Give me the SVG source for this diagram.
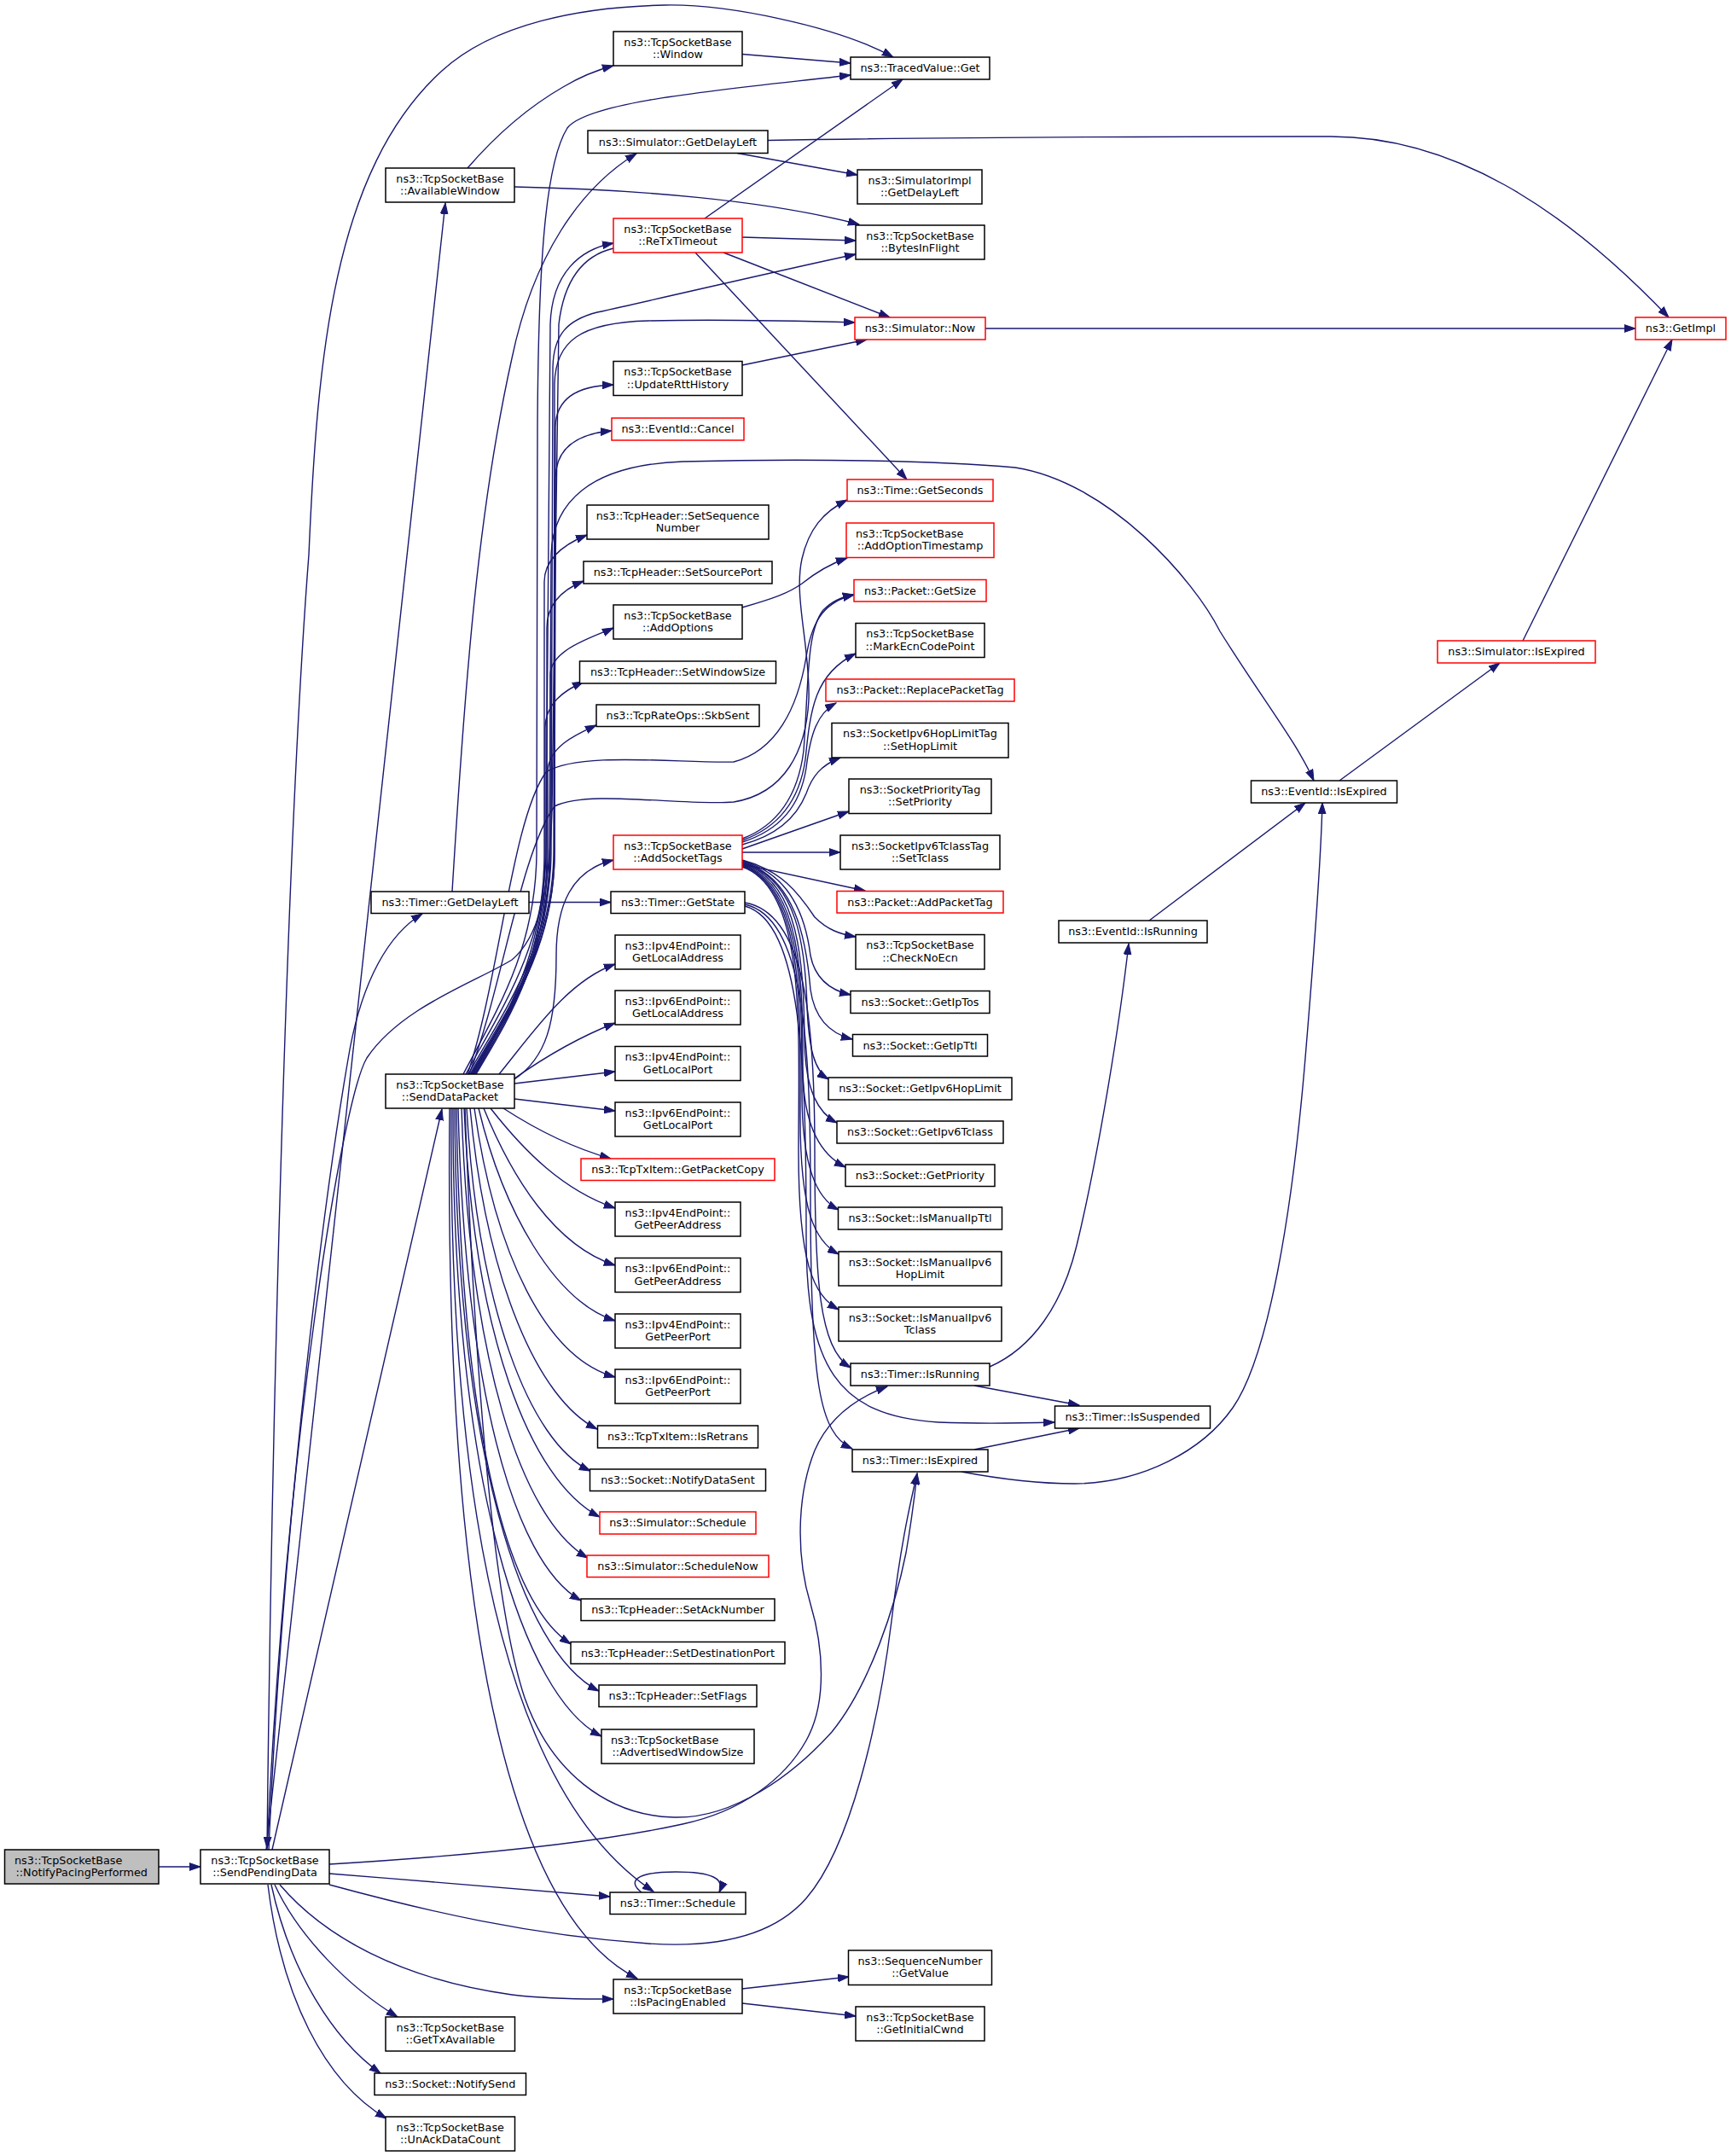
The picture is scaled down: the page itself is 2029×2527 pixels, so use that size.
<svg xmlns="http://www.w3.org/2000/svg" width="2029" height="2527" viewBox="0 0 2029 2527">
<defs>
<style>
.n rect{fill:#fff;stroke:#000;stroke-width:1.5}
.n.r rect{stroke:#ff0000}
.n.g rect{fill:#bfbfbf}
.n text{font-family:"DejaVu Sans","Liberation Sans",sans-serif;font-size:12.8px;fill:#000;text-anchor:middle}
.n text.l{text-anchor:start}
#edges path{fill:none;stroke:#191970;stroke-width:1.4;marker-end:url(#a)}
</style>
<marker id="a" markerUnits="userSpaceOnUse" markerWidth="14" markerHeight="10" refX="13" refY="5" orient="auto">
<path d="M0,0.6 L13,5 L0,9.4 z" fill="#191970" stroke="#191970" stroke-width="1"/>
</marker>
</defs>
<rect width="2029" height="2527" fill="#fff"/>
<g id="edges">
<path d="M186,2188 L235,2188"/>
<path d="M312,2168 L522,238"/>
<path d="M313,2168 C318,1700 335,1000 362,650 C372,420 390,200 518,83 C578,28 680,8 779,6 C850,4.5 980,30 1047,67"/>
<path d="M315,2168 C330,1800 380,1400 410,1230 C425,1150 455,1095 495,1071"/>
<path d="M319,2168 L518,1300"/>
<path d="M386,2185 C550,2175 700,2160 800,2138 C870,2123 920,2085 945,2040 C970,1995 965,1930 950,1880 C932,1820 935,1750 955,1700 C970,1665 1000,1640 1040,1625"/>
<path d="M386,2196 C500,2205 620,2215 715,2223"/>
<path d="M386,2209 C500,2240 620,2268 760,2278 C850,2284 910,2265 945,2225 C997,2165 1030,2020 1045,1900 C1055,1816 1065,1770 1075,1727"/>
<path d="M328,2209 C380,2270 470,2320 600,2338 C650,2344 690,2343 719,2343"/>
<path d="M322,2209 C350,2270 410,2330 466,2364"/>
<path d="M318,2209 C340,2310 390,2390 446,2430"/>
<path d="M314,2209 C330,2340 380,2440 453,2483"/>
<path d="M719,291 C690,298 662,320 655,380 L647,950 C644,1050 630,1100 600,1125 C560,1150 470,1180 430,1240 C400,1290 335,1700 313,2166"/>
<path d="M543,1259 C585,1180 628,1110 629,1000 L630,500 C631,300 640,190 665,150 C690,118 850,105 997,88"/>
<path d="M546,1259 C588,1182 638,1110 640,1000 L645,380 C647,320 680,292 719,285"/>
<path d="M549,1259 C592,1183 645,1110 646,1000 L648,430 C649,392 665,375 700,366 C800,344 900,320 1003,298"/>
<path d="M551,1259 C594,1184 648,1110 649,1000 L650,450 C651,400 680,378 760,376 C850,374 930,376 1002,378"/>
<path d="M552,1259 C595,1185 650,1110 650,1000 L651,500 C652,465 680,452 719,451"/>
<path d="M553,1259 C596,1186 650,1112 650,1000 L651,560 C652,522 680,508 717,505"/>
<path d="M554,1259 C596,1186 644,1115 644,1000 L646,650 C648,590 690,545 800,541 C950,537 1100,540 1190,548 C1300,565 1400,680 1430,740 C1480,820 1520,870 1540,915"/>
<path d="M554,1259 C596,1187 638,1115 638,1000 L638,682 C638,652 666,636 688,627"/>
<path d="M555,1259 C597,1187 641,1115 641,1000 L641,736 C641,706 662,690 684,681"/>
<path d="M556,1259 C598,1188 645,1118 645,1000 L645,791 C645,761 697,746 719,736"/>
<path d="M557,1259 C598,1189 639,1120 639,1000 L639,854 C639,824 662,809 684,799"/>
<path d="M558,1259 C599,1190 642,1122 642,1000 L642,905 C642,875 677,860 699,850"/>
<path d="M603,1265 C640,1240 652,1200 652,1120 C652,1060 670,1020 719,1008"/>
<path d="M548,1259 C585,1150 600,960 640,905 C680,880 800,895 860,893 C910,880 935,830 945,770 C952,725 968,705 1001,697"/>
<path d="M550,1259 C588,1160 610,1000 650,945 C690,925 800,945 860,940 C920,930 945,880 948,820 C950,760 930,700 940,655 C948,620 965,600 993,586"/>
<path d="M585,1259 C625,1210 665,1150 721,1130"/>
<path d="M603,1264 C640,1238 680,1215 721,1199"/>
<path d="M603,1270 L721,1256"/>
<path d="M603,1288 L721,1302"/>
<path d="M590,1299 C630,1325 670,1345 716,1358"/>
<path d="M575,1299 C615,1350 660,1395 721,1416"/>
<path d="M567,1299 C600,1380 650,1460 721,1483"/>
<path d="M561,1299 C590,1420 650,1525 721,1548"/>
<path d="M556,1299 C580,1470 640,1592 721,1614"/>
<path d="M551,1299 C570,1500 630,1640 700,1675"/>
<path d="M547,1299 C560,1530 620,1690 692,1724"/>
<path d="M544,1299 C555,1560 620,1735 703,1778"/>
<path d="M541,1299 C550,1590 610,1780 689,1826"/>
<path d="M537,1299 C545,1620 600,1830 681,1876"/>
<path d="M535,1299 C540,1660 590,1875 669,1927"/>
<path d="M533,1299 C535,1700 610,1935 702,1982"/>
<path d="M531,1299 C530,1740 615,1990 705,2035"/>
<path d="M529,1299 C525,1850 620,2120 766,2217"/>
<path d="M527,1299 C520,1950 610,2250 747,2319"/>
<path d="M545,1299 C560,1700 585,1900 615,1990 C645,2075 710,2128 790,2130 C860,2132 930,2080 975,2030 C1020,1975 1050,1880 1062,1820 C1068,1785 1072,1755 1075,1727"/>
<path d="M752,2218 C735,2205 745,2194 792,2194 C835,2194 850,2202 843,2218"/>
<path d="M530,1045 C545,800 560,600 600,420 C625,300 680,220 746,180"/>
<path d="M620,1057.5 L716,1057.5"/>
<path d="M548,197 C580,160 620,125 660,102 C680,90 700,82 719,77"/>
<path d="M603,219 C750,222 900,235 1007,263"/>
<path d="M870,63.5 L997,74"/>
<path d="M864,179.5 L1005,205"/>
<path d="M900,164.5 C1100,161 1300,160 1560,160 C1700,160 1830,240 1956,372"/>
<path d="M826,256 L1058,93"/>
<path d="M870,278 L1003,282"/>
<path d="M848,296 L1043,372"/>
<path d="M815,296 L1063,562"/>
<path d="M870,428 L1016,398"/>
<path d="M1155,385 L1917,385"/>
<path d="M870,712 C905,702 925,695 940,684 C955,672 970,662 993,654"/>
<path d="M870,983 C910,968 935,935 942,880 C948,800 945,740 965,715 C975,705 985,700 1001,697"/>
<path d="M870,985 C912,970 937,940 944,890 C950,830 955,790 1003,766"/>
<path d="M870,987 C914,973 938,945 945,900 C950,860 958,836 980,824"/>
<path d="M870,990 C915,978 935,955 945,930 C952,910 962,897 985,888"/>
<path d="M870,995 L995,951"/>
<path d="M870,999 L985,999"/>
<path d="M870,1013 L1014,1044"/>
<path d="M870,1008 C915,1020 935,1045 955,1075 C970,1090 985,1095 1003,1098"/>
<path d="M870,1009 C930,1025 945,1080 950,1120 C955,1145 970,1160 997,1166"/>
<path d="M870,1010 C932,1028 945,1100 950,1160 C955,1195 975,1212 999,1218"/>
<path d="M870,1011 C935,1030 944,1110 946,1180 C948,1230 955,1255 971,1265"/>
<path d="M870,1012 C938,1032 942,1130 943,1220 C944,1280 960,1305 981,1316"/>
<path d="M870,1013 C940,1035 941,1150 941,1250 C941,1325 965,1355 991,1368"/>
<path d="M870,1014 C942,1038 940,1170 940,1280 C940,1370 958,1405 983,1418"/>
<path d="M870,1015 C944,1040 938,1190 938,1310 C938,1420 955,1455 983,1470"/>
<path d="M870,1016 C946,1042 936,1210 936,1350 C936,1480 953,1518 983,1535"/>
<path d="M873,1058 C945,1070 955,1200 955,1350 C955,1500 960,1580 997,1603"/>
<path d="M873,1060 C942,1075 950,1220 950,1400 C950,1620 960,1680 999,1698"/>
<path d="M873,1062 C940,1080 945,1250 945,1450 C945,1600 980,1660 1100,1667 C1150,1669 1200,1668 1236,1667"/>
<path d="M1160,1602 C1210,1580 1245,1530 1262,1460 C1284,1369 1310,1220 1323,1106"/>
<path d="M1142,1624 L1265,1647"/>
<path d="M1142,1699 L1265,1674"/>
<path d="M1127,1725 C1180,1735 1220,1739 1260,1739 C1340,1738 1410,1700 1445,1650 C1487,1590 1515,1420 1530,1240 C1539,1132 1548,1020 1550,941"/>
<path d="M1347,1079 L1530,941"/>
<path d="M1570,915 L1758,777"/>
<path d="M1785,751 L1960,398"/>
<path d="M870,2331 L995,2317"/>
<path d="M870,2348 L1003,2363"/>
</g>
<g id="n_notify" class="n g"><rect x="5.5" y="2168" width="180.5" height="40"/><text class="l" x="17" y="2184.5">ns3::TcpSocketBase</text><text x="95.75" y="2199.2">::NotifyPacingPerformed</text></g>
<g id="n_spd" class="n"><rect x="235" y="2168" width="151" height="40"/><text x="310.5" y="2184.5">ns3::TcpSocketBase</text><text x="310.5" y="2199.2">::SendPendingData</text></g>
<g id="n_avw" class="n"><rect x="452" y="197" width="151" height="40"/><text x="527.5" y="213.5">ns3::TcpSocketBase</text><text x="527.5" y="228.2">::AvailableWindow</text></g>
<g id="n_tgdl" class="n"><rect x="435" y="1045" width="185" height="25.5"/><text x="527.5" y="1062.3">ns3::Timer::GetDelayLeft</text></g>
<g id="n_sdp" class="n"><rect x="452" y="1259" width="151" height="40"/><text x="527.5" y="1275.5">ns3::TcpSocketBase</text><text x="527.5" y="1290.2">::SendDataPacket</text></g>
<g id="n_gta" class="n"><rect x="452" y="2364" width="151.5" height="40"/><text x="527.75" y="2380.5">ns3::TcpSocketBase</text><text x="527.75" y="2395.2">::GetTxAvailable</text></g>
<g id="n_ns" class="n"><rect x="439" y="2430" width="177.5" height="25.5"/><text x="527.75" y="2447.3">ns3::Socket::NotifySend</text></g>
<g id="n_uadc" class="n"><rect x="452" y="2481" width="151.5" height="40"/><text x="527.75" y="2497.5">ns3::TcpSocketBase</text><text x="527.75" y="2512.2">::UnAckDataCount</text></g>
<g id="n_window" class="n"><rect x="719" y="37" width="151" height="40"/><text x="794.5" y="53.5">ns3::TcpSocketBase</text><text x="794.5" y="68.2">::Window</text></g>
<g id="n_sgdl" class="n"><rect x="689" y="153" width="211" height="26.5"/><text x="794.5" y="170.5">ns3::Simulator::GetDelayLeft</text></g>
<g id="n_retx" class="n r"><rect x="719" y="256" width="151" height="40"/><text x="794.5" y="272.5">ns3::TcpSocketBase</text><text x="794.5" y="287.2">::ReTxTimeout</text></g>
<g id="n_urtt" class="n"><rect x="719" y="423.5" width="151" height="40"/><text x="794.5" y="440">ns3::TcpSocketBase</text><text x="794.5" y="454.7">::UpdateRttHistory</text></g>
<g id="n_cancel" class="n r"><rect x="717" y="490" width="155" height="26"/><text x="794.5" y="507.3">ns3::EventId::Cancel</text></g>
<g id="n_setseq" class="n"><rect x="688" y="592" width="213" height="40"/><text x="794.5" y="608.5">ns3::TcpHeader::SetSequence</text><text x="794.5" y="623.2">Number</text></g>
<g id="n_srcport" class="n"><rect x="684" y="658" width="221" height="26"/><text x="794.5" y="675.3">ns3::TcpHeader::SetSourcePort</text></g>
<g id="n_addopt" class="n"><rect x="719" y="709" width="151" height="40"/><text x="794.5" y="725.5">ns3::TcpSocketBase</text><text x="794.5" y="740.2">::AddOptions</text></g>
<g id="n_winsize" class="n"><rect x="679.5" y="775" width="230" height="26"/><text x="794.5" y="792.3">ns3::TcpHeader::SetWindowSize</text></g>
<g id="n_skb" class="n"><rect x="699" y="826" width="191" height="25.5"/><text x="794.5" y="843.3">ns3::TcpRateOps::SkbSent</text></g>
<g id="n_ast" class="n r"><rect x="719" y="979" width="151" height="40"/><text x="794.5" y="995.5">ns3::TcpSocketBase</text><text x="794.5" y="1010.2">::AddSocketTags</text></g>
<g id="n_getstate" class="n"><rect x="716" y="1045" width="157" height="25.5"/><text x="794.5" y="1062.3">ns3::Timer::GetState</text></g>
<g id="n_v4la" class="n"><rect x="721" y="1096" width="147" height="40"/><text x="794.5" y="1112.5">ns3::Ipv4EndPoint::</text><text x="794.5" y="1127.2">GetLocalAddress</text></g>
<g id="n_v6la" class="n"><rect x="721" y="1161" width="147" height="40"/><text x="794.5" y="1177.5">ns3::Ipv6EndPoint::</text><text x="794.5" y="1192.2">GetLocalAddress</text></g>
<g id="n_v4lp" class="n"><rect x="721" y="1226.5" width="147" height="40"/><text x="794.5" y="1243">ns3::Ipv4EndPoint::</text><text x="794.5" y="1257.7">GetLocalPort</text></g>
<g id="n_v6lp" class="n"><rect x="721" y="1292" width="147" height="40"/><text x="794.5" y="1308.5">ns3::Ipv6EndPoint::</text><text x="794.5" y="1323.2">GetLocalPort</text></g>
<g id="n_gpc" class="n r"><rect x="681" y="1358" width="227" height="25.5"/><text x="794.5" y="1375.3">ns3::TcpTxItem::GetPacketCopy</text></g>
<g id="n_v4pa" class="n"><rect x="721" y="1409" width="147" height="40"/><text x="794.5" y="1425.5">ns3::Ipv4EndPoint::</text><text x="794.5" y="1440.2">GetPeerAddress</text></g>
<g id="n_v6pa" class="n"><rect x="721" y="1474.5" width="147" height="40"/><text x="794.5" y="1491">ns3::Ipv6EndPoint::</text><text x="794.5" y="1505.7">GetPeerAddress</text></g>
<g id="n_v4pp" class="n"><rect x="721" y="1540" width="147" height="40"/><text x="794.5" y="1556.5">ns3::Ipv4EndPoint::</text><text x="794.5" y="1571.2">GetPeerPort</text></g>
<g id="n_v6pp" class="n"><rect x="721" y="1605" width="147" height="40"/><text x="794.5" y="1621.5">ns3::Ipv6EndPoint::</text><text x="794.5" y="1636.2">GetPeerPort</text></g>
<g id="n_isretr" class="n"><rect x="700.5" y="1671" width="188" height="26"/><text x="794.5" y="1688.3">ns3::TcpTxItem::IsRetrans</text></g>
<g id="n_nds" class="n"><rect x="691.5" y="1722" width="206" height="25.5"/><text x="794.5" y="1739.3">ns3::Socket::NotifyDataSent</text></g>
<g id="n_ssched" class="n r"><rect x="703" y="1772" width="183" height="26"/><text x="794.5" y="1789.3">ns3::Simulator::Schedule</text></g>
<g id="n_snow" class="n r"><rect x="688" y="1823" width="213" height="25.5"/><text x="794.5" y="1840.3">ns3::Simulator::ScheduleNow</text></g>
<g id="n_ack" class="n"><rect x="681" y="1874" width="227" height="25.5"/><text x="794.5" y="1891.3">ns3::TcpHeader::SetAckNumber</text></g>
<g id="n_dport" class="n"><rect x="669" y="1924.5" width="251" height="25.5"/><text x="794.5" y="1941.8">ns3::TcpHeader::SetDestinationPort</text></g>
<g id="n_flags" class="n"><rect x="702" y="1975" width="185" height="25.5"/><text x="794.5" y="1992.3">ns3::TcpHeader::SetFlags</text></g>
<g id="n_adv" class="n"><rect x="705" y="2027" width="179" height="40"/><text class="l" x="716" y="2043.5">ns3::TcpSocketBase</text><text x="794.5" y="2058.2">::AdvertisedWindowSize</text></g>
<g id="n_tsched" class="n"><rect x="715" y="2218" width="159" height="25.5"/><text x="794.5" y="2235.3">ns3::Timer::Schedule</text></g>
<g id="n_pacing" class="n"><rect x="719" y="2320" width="151" height="40"/><text x="794.5" y="2336.5">ns3::TcpSocketBase</text><text x="794.5" y="2351.2">::IsPacingEnabled</text></g>
<g id="n_tvget" class="n"><rect x="997" y="67" width="163" height="26"/><text x="1078.5" y="84.3">ns3::TracedValue::Get</text></g>
<g id="n_simimpl" class="n"><rect x="1005" y="199" width="146" height="40"/><text x="1078" y="215.5">ns3::SimulatorImpl</text><text x="1078" y="230.2">::GetDelayLeft</text></g>
<g id="n_bif" class="n"><rect x="1003" y="264" width="151" height="40"/><text x="1078.5" y="280.5">ns3::TcpSocketBase</text><text x="1078.5" y="295.2">::BytesInFlight</text></g>
<g id="n_now" class="n r"><rect x="1002" y="372" width="153" height="26"/><text x="1078.5" y="389.3">ns3::Simulator::Now</text></g>
<g id="n_secs" class="n r"><rect x="993" y="562" width="171" height="25.5"/><text x="1078.5" y="579.3">ns3::Time::GetSeconds</text></g>
<g id="n_aots" class="n r"><rect x="992" y="613" width="173" height="40.5"/><text class="l" x="1003" y="629.5">ns3::TcpSocketBase</text><text x="1078.5" y="644.2">::AddOptionTimestamp</text></g>
<g id="n_gsize" class="n r"><rect x="1001" y="679.5" width="155" height="25.5"/><text x="1078.5" y="696.8">ns3::Packet::GetSize</text></g>
<g id="n_mecp" class="n"><rect x="1003" y="730.5" width="151" height="40"/><text x="1078.5" y="747">ns3::TcpSocketBase</text><text x="1078.5" y="761.7">::MarkEcnCodePoint</text></g>
<g id="n_rpt" class="n r"><rect x="968" y="796" width="221" height="26"/><text x="1078.5" y="813.3">ns3::Packet::ReplacePacketTag</text></g>
<g id="n_hop" class="n"><rect x="975" y="847.5" width="207" height="40.5"/><text x="1078.5" y="864">ns3::SocketIpv6HopLimitTag</text><text x="1078.5" y="878.7">::SetHopLimit</text></g>
<g id="n_prio" class="n"><rect x="995" y="913" width="167" height="40.5"/><text x="1078.5" y="929.5">ns3::SocketPriorityTag</text><text x="1078.5" y="944.2">::SetPriority</text></g>
<g id="n_tcls" class="n"><rect x="985" y="979" width="187" height="40"/><text x="1078.5" y="995.5">ns3::SocketIpv6TclassTag</text><text x="1078.5" y="1010.2">::SetTclass</text></g>
<g id="n_apt" class="n r"><rect x="981" y="1044.5" width="195" height="25.5"/><text x="1078.5" y="1061.8">ns3::Packet::AddPacketTag</text></g>
<g id="n_cne" class="n"><rect x="1003" y="1095.5" width="151" height="40.5"/><text x="1078.5" y="1112">ns3::TcpSocketBase</text><text x="1078.5" y="1126.7">::CheckNoEcn</text></g>
<g id="n_iptos" class="n"><rect x="997" y="1161.5" width="163" height="26"/><text x="1078.5" y="1178.8">ns3::Socket::GetIpTos</text></g>
<g id="n_ipttl" class="n"><rect x="999.5" y="1212.5" width="158" height="25.5"/><text x="1078.5" y="1229.8">ns3::Socket::GetIpTtl</text></g>
<g id="n_v6hl" class="n"><rect x="971" y="1263" width="215" height="26"/><text x="1078.5" y="1280.3">ns3::Socket::GetIpv6HopLimit</text></g>
<g id="n_v6tc" class="n"><rect x="981" y="1314" width="195" height="26"/><text x="1078.5" y="1331.3">ns3::Socket::GetIpv6Tclass</text></g>
<g id="n_gprio" class="n"><rect x="991" y="1365" width="175" height="25.5"/><text x="1078.5" y="1382.3">ns3::Socket::GetPriority</text></g>
<g id="n_mipttl" class="n"><rect x="982.5" y="1415" width="192" height="26"/><text x="1078.5" y="1432.3">ns3::Socket::IsManualIpTtl</text></g>
<g id="n_mhl" class="n"><rect x="983" y="1467" width="191" height="40"/><text x="1078.5" y="1483.5">ns3::Socket::IsManualIpv6</text><text x="1078.5" y="1498.2">HopLimit</text></g>
<g id="n_mtc" class="n"><rect x="983" y="1532" width="191" height="40"/><text x="1078.5" y="1548.5">ns3::Socket::IsManualIpv6</text><text x="1078.5" y="1563.2">Tclass</text></g>
<g id="n_trun" class="n"><rect x="997" y="1598" width="163" height="26"/><text x="1078.5" y="1615.3">ns3::Timer::IsRunning</text></g>
<g id="n_texp" class="n"><rect x="999" y="1699" width="159" height="26"/><text x="1078.5" y="1716.3">ns3::Timer::IsExpired</text></g>
<g id="n_seqv" class="n"><rect x="994.5" y="2286" width="168" height="40.5"/><text x="1078.5" y="2302.5">ns3::SequenceNumber</text><text x="1078.5" y="2317.2">::GetValue</text></g>
<g id="n_icwnd" class="n"><rect x="1003" y="2352" width="151" height="40"/><text x="1078.5" y="2368.5">ns3::TcpSocketBase</text><text x="1078.5" y="2383.2">::GetInitialCwnd</text></g>
<g id="n_erun" class="n"><rect x="1241" y="1079" width="174" height="26"/><text x="1328" y="1096.3">ns3::EventId::IsRunning</text></g>
<g id="n_tsusp" class="n"><rect x="1236.5" y="1648" width="182" height="26"/><text x="1327.5" y="1665.3">ns3::Timer::IsSuspended</text></g>
<g id="n_eexp" class="n"><rect x="1466.5" y="915" width="171" height="26"/><text x="1552" y="932.3">ns3::EventId::IsExpired</text></g>
<g id="n_sexp" class="n r"><rect x="1685" y="751" width="185" height="26"/><text x="1777.5" y="768.3">ns3::Simulator::IsExpired</text></g>
<g id="n_impl" class="n r"><rect x="1917" y="372" width="106" height="26"/><text x="1970" y="389.3">ns3::GetImpl</text></g>
</svg>
